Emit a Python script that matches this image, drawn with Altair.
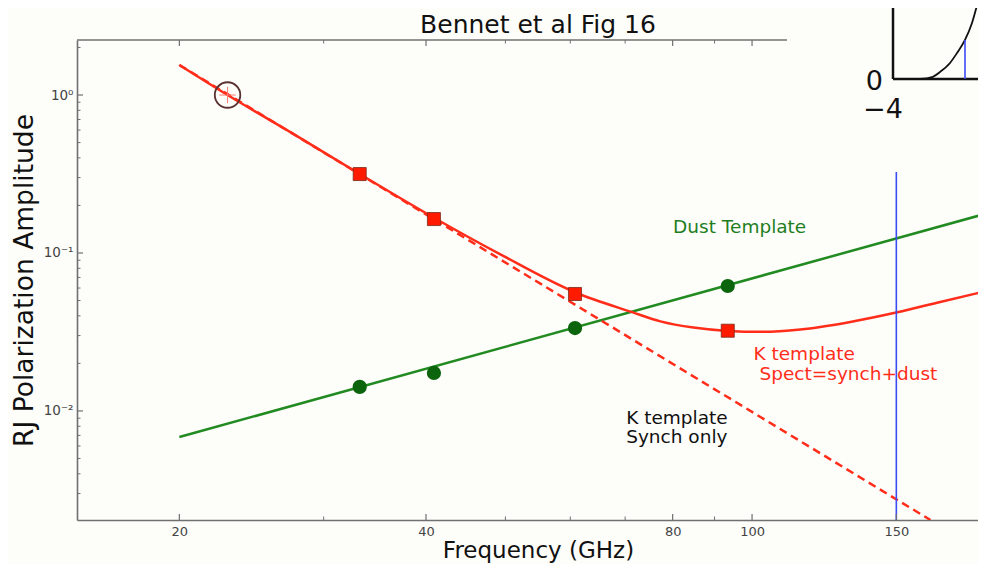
import altair as alt
import pandas as pd

# ---------------- data ----------------
band_freq = [33.2, 40.9, 60.8, 93.4]            # WMAP Ka, Q, V, W (GHz)
k_spect_amp = [0.316, 0.164, 0.055, 0.0322]     # red squares
dust_amp = [0.0142, 0.0174, 0.0335, 0.0618]     # green dots

k_freq = [22.9]                                 # K band reference point
k_amp = [1.0]

spect_freq = [20.0, 22.9, 28.1, 33.2, 41.0, 49.3, 60.9, 71.4, 77.3, 84.8,
              93.5, 102.3, 114.5, 131.8, 150.4, 169.7, 188.8]
spect_amp = [1.549, 1.0, 0.534, 0.316, 0.166, 0.098, 0.0562, 0.0422, 0.0369,
             0.0337, 0.0321, 0.0317, 0.0328, 0.0366, 0.0421, 0.049, 0.0558]

synch_freq = [20.0, 165.1]
synch_amp = [1.549, 0.00204]

dust_line_freq = [20.0, 188.8]
dust_line_amp = [0.00684, 0.172]

cut_freq = [150.0, 150.0]
cut_amp = [0.00204, 0.326]

x_major = [20, 40, 80, 100, 150]
x_minor = [30, 50, 60, 70, 90]
top_major = [20, 40, 80, 100]
y_major = [0.01, 0.1, 1.0]
y_minor = [0.003, 0.004, 0.005, 0.006, 0.007, 0.008, 0.009,
           0.02, 0.03, 0.04, 0.05, 0.06, 0.07, 0.08, 0.09,
           0.2, 0.3, 0.4, 0.5, 0.6, 0.7, 0.8, 0.9, 2.0]

RED = "#ff2d1a"
GREEN = "#218a21"
TXTGREEN = "#1f7f1f"
DKGREEN = "#0c650c"
BLUE = "#3b4cf5"
BLACK = "#111111"
GRAY = "#707070"
BG = "#fdfdfa"

title_text = ["Bennet et al Fig 16"]

notes_text = ["Dust Template", "K template", "Spect=synch+dust", "K template", "Synch only"]
notes_freq = [80.1, 100.4, 102.1, 70.2, 70.2]
notes_amp = [0.1338, 0.02103, 0.01571, 0.00827, 0.00627]
notes_color = [TXTGREEN, RED, RED, BLACK, BLACK]

# pasted inset (top-right corner)
inset_x = [-2.92, -2.44, -2.12, -1.72, -1.44, -1.12, -0.84, -0.6, -0.48]
inset_y = [0.0, 0.025, 0.089, 0.203, 0.329, 0.494, 0.709, 0.975, 1.101]
inset_cut_x = [-1.12, -1.12]
inset_cut_y = [0.0, 0.494]
inset_box_x = [-8.24, 0.6]      # extent of the pasted inset picture
inset_box_y = [-0.5, 1.2]

# ---------------- scales / axes ----------------
xs = alt.Scale(type="log", domain=[15, 188.7], nice=False)
ys = alt.Scale(type="log", domain=[0.00204, 2.23], nice=False)

x_axis = alt.Axis(values=x_major, format="d", labelFontSize=13, labelColor="#444444",
                  labelPadding=5, labelFlush=False, ticks=False, grid=False,
                  domainColor=GRAY, domainWidth=1.6,
                  title="Frequency (GHz)", titleFontSize=23, titleFontWeight="normal",
                  titleColor=BLACK, titleX=461, titleY=37, titleAlign="center",
                  titleBaseline="alphabetic")
y_axis = alt.Axis(values=y_major,
                  labelExpr="datum.value >= 0.99 ? '10⁰' : (datum.value >= 0.099 ? '10⁻¹' : '10⁻²')",
                  labelFontSize=13.5, labelColor="#444444", labelPadding=4, ticks=False,
                  grid=False, domainColor=GRAY, domainWidth=1.6,
                  title="RJ Polarization Amplitude", titleFontSize=26.5,
                  titleFontWeight="normal", titleColor=BLACK, titleAngle=270,
                  titleX=-45, titleY=240, titleAlign="center", titleBaseline="alphabetic")

X = alt.X("f:Q", scale=xs, axis=x_axis)
Y = alt.Y("a:Q", scale=ys, axis=y_axis)

def df(f, a):
    return pd.DataFrame({"f": f, "a": a})

dust_line = alt.Chart(df(dust_line_freq, dust_line_amp)).mark_line(
    color=GREEN, strokeWidth=2.5, clip=True).encode(x=X, y=Y)
synch_line = alt.Chart(df(synch_freq, synch_amp)).mark_line(
    color=RED, strokeWidth=2.5, strokeDash=[8, 5], clip=True).encode(x=X, y=Y)
spect_line = alt.Chart(df(spect_freq, spect_amp)).mark_line(
    color=RED, strokeWidth=2.5, interpolate="monotone", clip=True).encode(x=X, y=Y)
cut_line = alt.Chart(df(cut_freq, cut_amp)).mark_line(
    color=BLUE, strokeWidth=1.6, clip=True).encode(x=X, y=Y)

squares = alt.Chart(df(band_freq, k_spect_amp)).mark_point(
    shape="square", filled=True, fill="#ff1a00", stroke="#7a2a1a", strokeWidth=0.8,
    size=170, opacity=1).encode(x=X, y=Y)
dots = alt.Chart(df(band_freq, dust_amp)).mark_point(
    shape="circle", filled=True, fill=DKGREEN, stroke=DKGREEN, size=150,
    opacity=1).encode(x=X, y=Y)
k_ring = alt.Chart(df(k_freq, k_amp)).mark_point(
    shape="circle", filled=False, stroke="#5a3030", strokeWidth=1.8, size=650,
    opacity=1).encode(x=X, y=Y)
k_plus = alt.Chart(df(k_freq, k_amp)).mark_point(
    shape="M-1,0L1,0M0,-1L0,1", filled=False, stroke="#ff7a70", strokeWidth=1,
    size=270, opacity=1).encode(x=X, y=Y)

notes = alt.Chart(pd.DataFrame({"f": notes_freq, "a": notes_amp, "t": notes_text,
                                "c": notes_color})).mark_text(
    align="left", baseline="alphabetic", fontSize=18.5, font="DejaVu Sans").encode(
    x=X, y=Y, text="t:N", color=alt.Color("c:N", scale=None))

# chart title drawn as text above the frame (the pasted inset would push a normal title off-page)
title = alt.Chart(pd.DataFrame({"t": title_text})).mark_text(
    align="center", baseline="alphabetic", fontSize=25, font="DejaVu Sans",
    color=BLACK).encode(x=alt.value(461), y=alt.value(-7), text="t:N")

# inward ticks and top frame line
bot_major = alt.Chart(pd.DataFrame({"f": x_major})).mark_rule(
    color=GRAY, strokeWidth=1.2).encode(x=X, y=alt.value(480), y2=alt.value(474))
bot_minor = alt.Chart(pd.DataFrame({"f": x_minor})).mark_rule(
    color=GRAY, strokeWidth=1.0).encode(x=X, y=alt.value(480), y2=alt.value(476.5))
top_maj = alt.Chart(pd.DataFrame({"f": top_major})).mark_rule(
    color=GRAY, strokeWidth=1.2).encode(x=X, y=alt.value(0), y2=alt.value(6))
top_min = alt.Chart(pd.DataFrame({"f": x_minor})).mark_rule(
    color=GRAY, strokeWidth=1.0).encode(x=X, y=alt.value(0), y2=alt.value(3.5))
left_major = alt.Chart(pd.DataFrame({"a": y_major})).mark_rule(
    color=GRAY, strokeWidth=1.2).encode(y=Y, x=alt.value(0), x2=alt.value(6))
left_minor = alt.Chart(pd.DataFrame({"a": y_minor})).mark_rule(
    color=GRAY, strokeWidth=1.0).encode(y=Y, x=alt.value(0), x2=alt.value(3.5))
top_frame = alt.Chart(pd.DataFrame({"f": [15.0], "f2": [110.4]})).mark_rule(
    color=GRAY, strokeWidth=1.6).encode(x=X, x2="f2:Q", y=alt.value(0))

main = alt.layer(dust_line, synch_line, spect_line, cut_line, squares, dots,
                 k_ring, k_plus, notes, bot_major, bot_minor, top_maj, top_min,
                 left_major, left_minor, top_frame, title)

# ---------------- inset ----------------
ixs = alt.Scale(domain=[-4, 4], range=[816, 1016])
iys = alt.Scale(domain=[0, 1], range=[39, -40])
IX = alt.X("ix:Q", scale=ixs, axis=None)
IY = alt.Y("iy:Q", scale=iys, axis=None)

inset_box = alt.Chart(pd.DataFrame({"ix": [inset_box_x[0]], "ix2": [inset_box_x[1]],
                                    "iy": [inset_box_y[0]], "iy2": [inset_box_y[1]]})).mark_rect(
    fill=BG, stroke=None, opacity=1).encode(x=IX, x2="ix2:Q", y=IY, y2="iy2:Q")
inset_curve = alt.Chart(pd.DataFrame({"ix": inset_x, "iy": inset_y})).mark_line(
    color=BLACK, strokeWidth=1.8, interpolate="monotone").encode(x=IX, y=IY)
inset_cut = alt.Chart(pd.DataFrame({"ix": inset_cut_x, "iy": inset_cut_y})).mark_line(
    color=BLUE, strokeWidth=1.6).encode(x=IX, y=IY)
inset_frame_v = alt.Chart(pd.DataFrame({"ix": [-4.0], "iy": [0.0], "iy2": [1.2]})).mark_rule(
    color=BLACK, strokeWidth=2.5).encode(x=IX, y=IY, y2="iy2:Q")
inset_frame_h = alt.Chart(pd.DataFrame({"ix": [-4.0], "ix2": [0.0], "iy": [0.0]})).mark_rule(
    color=BLACK, strokeWidth=2.5).encode(x=IX, x2="ix2:Q", y=IY)
inset_zero = alt.Chart(pd.DataFrame({"ix": [-4.0], "iy": [0.0], "t": ["0"]})).mark_text(
    align="right", baseline="middle", dx=-10, dy=3, fontSize=27, color=BLACK).encode(
    x=IX, y=IY, text="t:N")
inset_m4 = alt.Chart(pd.DataFrame({"ix": [-4.0], "iy": [0.0], "t": ["−4"]})).mark_text(
    align="center", baseline="middle", dx=-10, dy=31, fontSize=27, color=BLACK).encode(
    x=IX, y=IY, text="t:N")

inset = alt.layer(inset_box, inset_frame_v, inset_frame_h, inset_curve, inset_cut,
                  inset_zero, inset_m4)

chart = alt.layer(main, inset).resolve_scale(x="independent", y="independent").properties(
    width=901, height=480,
    autosize=alt.AutoSizeParams(type="none"),
    padding={"left": 69, "top": 32, "right": 0, "bottom": 44},
    background=BG,
    view=alt.ViewBackground(stroke=None, strokeWidth=0),
).configure_view(stroke=None, strokeWidth=0, strokeOpacity=0).configure(font="DejaVu Sans")

chart.save("out.html", embed_options={"renderer": "svg", "actions": False})
